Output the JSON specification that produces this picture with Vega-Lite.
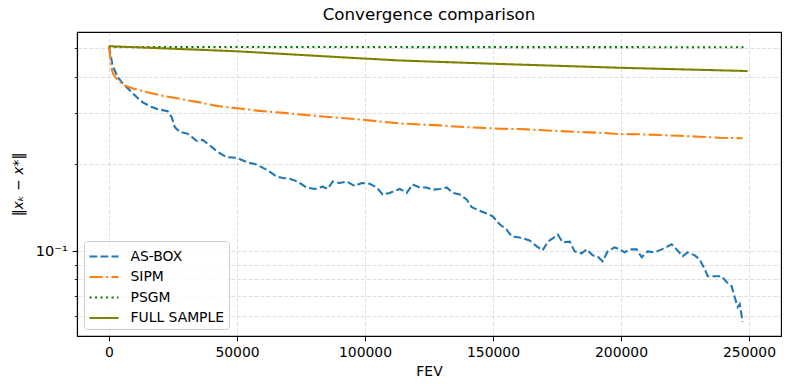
{
  "$schema": "https://vega.github.io/schema/vega-lite/v6.json",
  "width": 704,
  "height": 304,
  "autosize": "none",
  "padding": {"left": 77, "top": 32, "right": 9, "bottom": 54},
  "background": "white",
  "title": {"text": "Convergence comparison", "fontSize": 16.7, "fontWeight": "normal", "font": "DejaVu Sans", "color": "black", "offset": 8, "anchor": "middle"},
  "datasets": {
    "d": [
      {"s":"AS-BOX","x":0,"y":0.509},{"s":"AS-BOX","x":300,"y":0.492},{"s":"AS-BOX","x":1400,"y":0.437},{"s":"AS-BOX","x":3400,"y":0.398},{"s":"AS-BOX","x":5400,"y":0.379},{"s":"AS-BOX","x":8100,"y":0.359},{"s":"AS-BOX","x":10800,"y":0.340},{"s":"AS-BOX","x":13200,"y":0.326},{"s":"AS-BOX","x":16700,"y":0.314},{"s":"AS-BOX","x":19000,"y":0.309},{"s":"AS-BOX","x":22900,"y":0.304},{"s":"AS-BOX","x":24500,"y":0.290},{"s":"AS-BOX","x":25700,"y":0.268},{"s":"AS-BOX","x":27600,"y":0.258},{"s":"AS-BOX","x":30800,"y":0.254},{"s":"AS-BOX","x":34300,"y":0.240},{"s":"AS-BOX","x":36600,"y":0.242},{"s":"AS-BOX","x":39300,"y":0.232},{"s":"AS-BOX","x":42500,"y":0.220},{"s":"AS-BOX","x":46000,"y":0.211},{"s":"AS-BOX","x":49900,"y":0.210},{"s":"AS-BOX","x":53800,"y":0.203},{"s":"AS-BOX","x":57700,"y":0.199},{"s":"AS-BOX","x":61600,"y":0.191},{"s":"AS-BOX","x":65500,"y":0.181},{"s":"AS-BOX","x":67900,"y":0.179},{"s":"AS-BOX","x":70600,"y":0.178},{"s":"AS-BOX","x":73700,"y":0.174},{"s":"AS-BOX","x":77200,"y":0.166},{"s":"AS-BOX","x":80400,"y":0.164},{"s":"AS-BOX","x":83500,"y":0.167},{"s":"AS-BOX","x":85400,"y":0.164},{"s":"AS-BOX","x":87400,"y":0.174},{"s":"AS-BOX","x":90100,"y":0.172},{"s":"AS-BOX","x":92900,"y":0.174},{"s":"AS-BOX","x":96000,"y":0.168},{"s":"AS-BOX","x":98700,"y":0.172},{"s":"AS-BOX","x":101800,"y":0.171},{"s":"AS-BOX","x":104600,"y":0.166},{"s":"AS-BOX","x":106900,"y":0.157},{"s":"AS-BOX","x":109600,"y":0.159},{"s":"AS-BOX","x":113600,"y":0.164},{"s":"AS-BOX","x":116300,"y":0.159},{"s":"AS-BOX","x":118600,"y":0.170},{"s":"AS-BOX","x":121400,"y":0.166},{"s":"AS-BOX","x":124100,"y":0.166},{"s":"AS-BOX","x":126400,"y":0.163},{"s":"AS-BOX","x":129200,"y":0.164},{"s":"AS-BOX","x":131900,"y":0.166},{"s":"AS-BOX","x":134300,"y":0.159},{"s":"AS-BOX","x":137000,"y":0.157},{"s":"AS-BOX","x":139700,"y":0.151},{"s":"AS-BOX","x":141700,"y":0.142},{"s":"AS-BOX","x":144000,"y":0.139},{"s":"AS-BOX","x":147500,"y":0.135},{"s":"AS-BOX","x":149900,"y":0.132},{"s":"AS-BOX","x":152600,"y":0.124},{"s":"AS-BOX","x":155300,"y":0.119},{"s":"AS-BOX","x":157300,"y":0.1125},{"s":"AS-BOX","x":160400,"y":0.1117},{"s":"AS-BOX","x":164300,"y":0.109},{"s":"AS-BOX","x":167100,"y":0.104},{"s":"AS-BOX","x":169400,"y":0.1008},{"s":"AS-BOX","x":171400,"y":0.108},{"s":"AS-BOX","x":173300,"y":0.1108},{"s":"AS-BOX","x":175300,"y":0.1143},{"s":"AS-BOX","x":177200,"y":0.1074},{"s":"AS-BOX","x":180000,"y":0.108},{"s":"AS-BOX","x":181900,"y":0.100},{"s":"AS-BOX","x":184600,"y":0.0984},{"s":"AS-BOX","x":186600,"y":0.1016},{"s":"AS-BOX","x":188900,"y":0.0969},{"s":"AS-BOX","x":190900,"y":0.0961},{"s":"AS-BOX","x":192800,"y":0.0924},{"s":"AS-BOX","x":194800,"y":0.100},{"s":"AS-BOX","x":197500,"y":0.1032},{"s":"AS-BOX","x":199500,"y":0.1016},{"s":"AS-BOX","x":201400,"y":0.0992},{"s":"AS-BOX","x":203400,"y":0.1016},{"s":"AS-BOX","x":206100,"y":0.1016},{"s":"AS-BOX","x":208100,"y":0.0954},{"s":"AS-BOX","x":210400,"y":0.100},{"s":"AS-BOX","x":213200,"y":0.0992},{"s":"AS-BOX","x":215900,"y":0.1016},{"s":"AS-BOX","x":218200,"y":0.104},{"s":"AS-BOX","x":219800,"y":0.1057},{"s":"AS-BOX","x":221700,"y":0.1016},{"s":"AS-BOX","x":224100,"y":0.0961},{"s":"AS-BOX","x":226000,"y":0.0992},{"s":"AS-BOX","x":228800,"y":0.0969},{"s":"AS-BOX","x":230700,"y":0.0939},{"s":"AS-BOX","x":232700,"y":0.0868},{"s":"AS-BOX","x":233900,"y":0.0821},{"s":"AS-BOX","x":236600,"y":0.0821},{"s":"AS-BOX","x":239300,"y":0.0821},{"s":"AS-BOX","x":241300,"y":0.0783},{"s":"AS-BOX","x":243200,"y":0.0759},{"s":"AS-BOX","x":244400,"y":0.0696},{"s":"AS-BOX","x":245600,"y":0.0643},{"s":"AS-BOX","x":246400,"y":0.0658},{"s":"AS-BOX","x":247500,"y":0.0571},
      {"s":"SIPM","x":0,"y":0.509},{"s":"SIPM","x":900,"y":0.431},{"s":"SIPM","x":1600,"y":0.409},{"s":"SIPM","x":3500,"y":0.388},{"s":"SIPM","x":6100,"y":0.373},{"s":"SIPM","x":9400,"y":0.364},{"s":"SIPM","x":14600,"y":0.354},{"s":"SIPM","x":19800,"y":0.345},{"s":"SIPM","x":24900,"y":0.339},{"s":"SIPM","x":30200,"y":0.332},{"s":"SIPM","x":35400,"y":0.326},{"s":"SIPM","x":40500,"y":0.319},{"s":"SIPM","x":43200,"y":0.316},{"s":"SIPM","x":51100,"y":0.3105},{"s":"SIPM","x":58900,"y":0.3047},{"s":"SIPM","x":66700,"y":0.3008},{"s":"SIPM","x":74500,"y":0.2961},{"s":"SIPM","x":82300,"y":0.2922},{"s":"SIPM","x":90100,"y":0.2883},{"s":"SIPM","x":97900,"y":0.2847},{"s":"SIPM","x":105700,"y":0.2802},{"s":"SIPM","x":113600,"y":0.2759},{"s":"SIPM","x":121400,"y":0.2737},{"s":"SIPM","x":129200,"y":0.2716},{"s":"SIPM","x":137000,"y":0.2686},{"s":"SIPM","x":144800,"y":0.2665},{"s":"SIPM","x":152600,"y":0.2644},{"s":"SIPM","x":160400,"y":0.2638},{"s":"SIPM","x":168200,"y":0.2617},{"s":"SIPM","x":176000,"y":0.2597},{"s":"SIPM","x":183900,"y":0.2576},{"s":"SIPM","x":191700,"y":0.2562},{"s":"SIPM","x":199500,"y":0.2536},{"s":"SIPM","x":207300,"y":0.253},{"s":"SIPM","x":215100,"y":0.2516},{"s":"SIPM","x":222900,"y":0.2502},{"s":"SIPM","x":230700,"y":0.2483},{"s":"SIPM","x":238500,"y":0.2463},{"s":"SIPM","x":247500,"y":0.2452},
      {"s":"PSGM","x":0,"y":0.509},{"s":"PSGM","x":1500,"y":0.506},{"s":"PSGM","x":100000,"y":0.5055},{"s":"PSGM","x":249000,"y":0.505},
      {"s":"FULL SAMPLE","x":0,"y":0.509},{"s":"FULL SAMPLE","x":49800,"y":0.489},{"s":"FULL SAMPLE","x":94000,"y":0.4645},{"s":"FULL SAMPLE","x":113600,"y":0.4545},{"s":"FULL SAMPLE","x":149500,"y":0.443},{"s":"FULL SAMPLE","x":199500,"y":0.429},{"s":"FULL SAMPLE","x":249500,"y":0.418}
    ]
  },
  "data": {"name": "d"},
  "mark": {"type": "line", "strokeWidth": 2.08, "clip": true},
  "encoding": {
    "x": {
      "field": "x", "type": "quantitative",
      "scale": {"domain": [-12500, 262500], "nice": false, "zero": false},
      "axis": {"values": [0, 50000, 100000, 150000, 200000, 250000], "format": "d", "title": "FEV", "tickSize": 4.9, "labelPadding": 4.9, "titlePadding": 5}
    },
    "y": {
      "field": "y", "type": "quantitative",
      "scale": {"type": "log", "domain": [0.0511, 0.5697], "nice": false, "zero": false},
      "axis": {
        "values": [0.06, 0.07, 0.08, 0.09, 0.1, 0.2, 0.3, 0.4, 0.5],
        "labelExpr": "datum.value === 0.1 ? '10⁻¹' : ''",
        "tickSize": {"condition": {"test": "datum.value === 0.1", "value": 4.9}, "value": 2.8},
        "tickWidth": {"condition": {"test": "datum.value === 0.1", "value": 1.1}, "value": 0.8},
        "labelPadding": 4.9,
        "labelFontSize": 14.5,
        "title": "‖xₖ − x*‖",
        "titleFontStyle": "italic",
        "titlePadding": 10
      }
    },
    "color": {
      "field": "s", "type": "nominal", "sort": null,
      "scale": {"domain": ["AS-BOX", "SIPM", "PSGM", "FULL SAMPLE"], "range": ["#1f77b4", "#ff7f0e", "#008000", "#808000"]},
      "legend": {"title": null}
    },
    "strokeDash": {
      "field": "s", "type": "nominal", "sort": null,
      "scale": {"domain": ["AS-BOX", "SIPM", "PSGM", "FULL SAMPLE"], "range": [[7.7, 3.3], [13.3, 3.3, 2.1, 3.3], [2.1, 3.4], [1, 0]]},
      "legend": {"title": null}
    }
  },
  "config": {
    "font": "DejaVu Sans",
    "view": {"stroke": "black", "strokeWidth": 1.1},
    "axis": {
      "labelFont": "DejaVu Sans", "labelFontSize": 13.9, "labelColor": "black",
      "titleFont": "DejaVu Sans", "titleFontSize": 13.9, "titleFontWeight": "normal", "titleColor": "black",
      "tickColor": "black", "domainColor": "black", "domainWidth": 1.1,
      "grid": true, "gridColor": "#b0b0b0", "gridOpacity": 0.5, "gridDash": [4.1, 1.8], "gridWidth": 0.8
    },
    "legend": {
      "orient": "bottom-left", "offset": 7, "padding": 4,
      "fillColor": "rgba(255,255,255,0.8)", "strokeColor": "#cccccc", "cornerRadius": 3,
      "symbolType": "M-1.45,0H1.45", "symbolStrokeWidth": 2.08, "symbolSize": 400, "symbolOffset": 4.5,
      "labelFont": "DejaVu Sans", "labelFontSize": 13.9, "labelColor": "black", "labelOffset": 15,
      "rowPadding": 1.5
    }
  }
}
